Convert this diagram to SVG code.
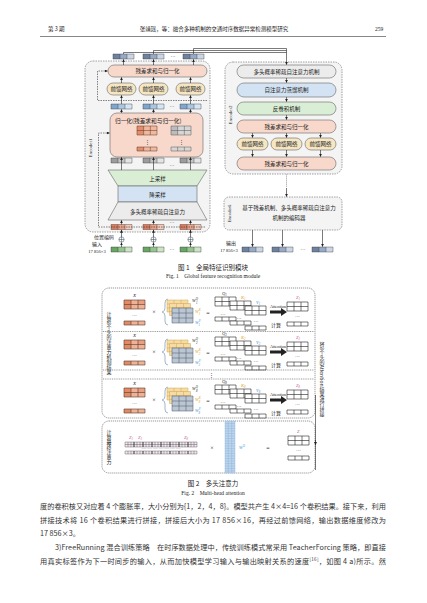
<svg xmlns="http://www.w3.org/2000/svg" width="427" height="603" viewBox="0 0 427 603">
<style>
.cn{font-family:"Noto Sans CJK SC",sans-serif;fill:#222}
.en{font-family:"Liberation Serif","Noto Sans CJK SC",serif;fill:#222}
.bt{font-family:"Noto Sans CJK SC",sans-serif;fill:#333}
.bx{stroke:#666;stroke-width:0.6}
.enc{fill:#f4f4f4;stroke:#666;stroke-width:0.6;stroke-dasharray:1.5 1}
.dbox{fill:none;stroke:#555;stroke-width:0.6;stroke-dasharray:1.2 0.8}
.ar{stroke:#222;stroke-width:0.6;fill:none;marker-end:url(#ah)}
.dar{stroke:#333;stroke-width:0.6;fill:none;stroke-dasharray:1.5 1;marker-end:url(#ah)}
.ln{stroke:#222;stroke-width:0.6;fill:none}
.sep{stroke:#555;stroke-width:0.6;stroke-dasharray:1 0.8;fill:none}
.pink{fill:#f8d8ca}
.ffn{fill:#f6e6c2}
.gray{fill:#ececec}
.blue{fill:#d3e3f3}
.green{fill:#d9eed5}
.g{stroke:#333;stroke-width:0.4;fill:none}
.vt{writing-mode:vertical-rl}
.pk{fill:#c2619a}
.yl{fill:#d9a21b}
.bl{fill:#3a8fcf}
</style>
<defs>
<marker id="ah" viewBox="0 0 4 4" refX="4" refY="2" markerWidth="3" markerHeight="3" markerUnits="userSpaceOnUse" orient="auto"><path d="M0,0L4,2L0,4z" fill="#222"/></marker>
<g id="tTop"><rect width="7" height="5" fill="#6e82a0"/><rect x="7" width="7" height="5" fill="#97aac5"/><rect x="14" width="7" height="5" fill="#cbd6e5"/><path class="g" d="M0,0h21v5h-21zM7,0v5M14,0v5"/></g>
<g id="tBlue"><rect width="7" height="5" fill="#7fa6cc"/><rect x="7" width="7" height="5" fill="#a9c6e3"/><rect x="14" width="7" height="5" fill="#d6e5f4"/><path class="g" d="M0,0h21v5h-21zM7,0v5M14,0v5"/></g>
<g id="tGray"><rect width="7" height="5" fill="#9c9c9c"/><rect x="7" width="7" height="5" fill="#c4c4c4"/><rect x="14" width="7" height="5" fill="#e4e4e4"/><path class="g" d="M0,0h21v5h-21zM7,0v5M14,0v5"/></g>
<g id="tOr"><rect width="7" height="5" fill="#df7b5a"/><rect x="7" width="7" height="5" fill="#eda084"/><rect x="14" width="7" height="5" fill="#f6cab7"/><path class="g" d="M0,0h21v5h-21zM7,0v5M14,0v5"/></g>
<g id="tGr"><rect width="7" height="5" fill="#67a663"/><rect x="7" width="7" height="5" fill="#94c58d"/><rect x="14" width="7" height="5" fill="#cae4c5"/><path class="g" d="M0,0h21v5h-21zM7,0v5M14,0v5"/></g>
<g id="m32o"><rect width="21" height="9" fill="#f0b296"/><rect width="7" height="9" fill="#e28a66"/><rect x="14" width="7" height="4.5" fill="#e8a080"/><path d="M0,0h21v9h-21zM7,0v9M14,0v9M0,4.5h21" stroke="#5a3a2a" stroke-width="0.6" fill="none"/></g>
<g id="r3o"><rect width="21" height="4" fill="#f0b296"/><rect width="7" height="4" fill="#e28a66"/><path d="M0,0h21v4h-21zM7,0v4M14,0v4" stroke="#5a3a2a" stroke-width="0.6" fill="none"/></g>
<g id="m32g"><rect width="20" height="9" fill="#d6d6d6"/><rect width="6.67" height="9" fill="#bcbcbc"/><path d="M0,0h20v9h-20zM6.67,0v9M13.33,0v9M0,4.5h20" stroke="#555" stroke-width="0.5" fill="none"/></g>
<g id="r3g"><rect width="20" height="4" fill="#d6d6d6"/><path d="M0,0h20v4h-20zM6.67,0v4M13.33,0v4" stroke="#555" stroke-width="0.5" fill="none"/></g>
<g id="m32p"><rect width="20" height="9" fill="#f2b89e"/><rect width="6.67" height="9" fill="#e48d6b"/><path d="M0,0h20v9h-20zM6.67,0v9M13.33,0v9M0,4.5h20" stroke="#5a3a2a" stroke-width="0.5" fill="none"/></g>
<g id="r3p"><rect width="20" height="4" fill="#f2b89e"/><rect width="6.67" height="4" fill="#e48d6b"/><path d="M0,0h20v4h-20zM6.67,0v4M13.33,0v4" stroke="#5a3a2a" stroke-width="0.5" fill="none"/></g>
<g id="m32w"><rect width="21" height="9" fill="#fff"/><path d="M0,0h21v9h-21zM7,0v9M14,0v9M0,4.5h21" stroke="#222" stroke-width="0.6" fill="none"/></g>
<g id="r3w"><rect width="21" height="4" fill="#fff"/><path d="M0,0h21v4h-21zM7,0v4M14,0v4" stroke="#222" stroke-width="0.6" fill="none"/></g>
<g id="wy"><rect width="21" height="12" fill="#f5dca6"/><path d="M0,0h21v12h-21zM7,0v12M14,0v12M0,4h21M0,8h21" stroke="#d1a552" stroke-width="0.5" fill="none"/></g>
<g id="wg"><rect width="21" height="15" fill="#bcc6d3"/><path d="M0,0h21v15h-21zM7,0v15M14,0v15M0,5h21M0,10h21" stroke="#4a5566" stroke-width="0.5" fill="none"/></g>
<g id="head">
<use href="#m32o" x="124" y="300"/>
<text class="en" x="134.5" y="317" font-size="5" text-anchor="middle">···</text>
<use href="#r3o" x="124" y="321"/>
<text class="en" x="154" y="314" font-size="6" text-anchor="middle">×</text>
<path d="M168,299q-3,0 -3,4v5q0,3.5 -3,4q3,0.5 3,4v5q0,4 3,4" stroke="#8ea4bd" stroke-width="0.8" fill="none"/>
<use href="#wy" x="167" y="300"/>
<use href="#wy" x="169.5" y="303.5"/>
<use href="#wg" x="172" y="308"/>
<text class="en" x="208" y="315" font-size="6" text-anchor="middle">=</text>
<use href="#m32w" x="215" y="297"/>
<use href="#m32w" x="230" y="301"/>
<use href="#m32w" x="245" y="306"/>
<text class="en" x="223" y="316" font-size="5" text-anchor="middle">···</text>
<text class="en" x="239" y="320" font-size="5" text-anchor="middle">···</text>
<text class="en" x="256" y="323" font-size="5" text-anchor="middle">···</text>
<use href="#r3w" x="215" y="317"/>
<use href="#r3w" x="230" y="321"/>
<use href="#r3w" x="245" y="326"/>
<text class="en" x="278" y="307.5" font-size="4.3" text-anchor="middle">Attention</text>
<path d="M270,310.5h11v-2.5l6,4l-6,4v-2.5h-11z" fill="#222"/>
<text class="cn" x="276" y="326.5" font-size="5" text-anchor="middle">计算</text>
<use href="#m32w" x="287" y="302"/>
<text class="en" x="297.5" y="318" font-size="5" text-anchor="middle">···</text>
<use href="#r3w" x="287" y="322"/>
</g>
</defs>

<rect width="427" height="603" fill="#fff"/>

<g id="header">
<text class="cn" x="48" y="31" font-size="5.5">第 3 期</text>
<text class="cn" x="214" y="31" font-size="5.5" text-anchor="middle">张靖瑶，等：融合多种机制的交通时序数据异常检测模型研究</text>
<text class="en" x="379" y="31" font-size="5.5" text-anchor="middle">259</text>
<path d="M40,36.5H386" stroke="#555" stroke-width="0.7"/>
</g>

<g id="encoder1">
<rect class="enc" x="85" y="61" width="125" height="171" rx="8"/>
<text class="en" font-size="5" text-anchor="middle" transform="translate(91.5,148) rotate(-90)">Encoder1</text>
<rect class="bx pink" x="108" y="65" width="99" height="12" rx="6"/>
<text class="cn" x="157.5" y="73" font-size="5.5" text-anchor="middle">残差求和与归一化</text>
<rect class="bx ffn" x="107" y="83" width="29" height="12" rx="6"/>
<rect class="bx ffn" x="139" y="83" width="29" height="12" rx="6"/>
<rect class="bx ffn" x="176" y="83" width="29" height="12" rx="6"/>
<text class="cn" x="121.5" y="91" font-size="5.5" text-anchor="middle">前馈网络</text>
<text class="cn" x="153.5" y="91" font-size="5.5" text-anchor="middle">前馈网络</text>
<text class="cn" x="190.5" y="91" font-size="5.5" text-anchor="middle">前馈网络</text>
<rect class="bx pink" x="110" y="113" width="93" height="44" rx="7"/>
<text class="cn" x="115" y="122.5" font-size="5.7">归一化(残差求和与归一化)</text>
<use href="#m32p" x="137" y="126"/>
<use href="#m32g" x="171" y="126"/>
<text class="en" x="147" y="144" font-size="5" text-anchor="middle">⋮</text>
<text class="en" x="181" y="144" font-size="5" text-anchor="middle">⋮</text>
<use href="#r3p" x="137" y="147"/>
<use href="#r3g" x="171" y="147"/>
<polygon class="bx green" points="108,170 207,170 197,186 118,186"/>
<rect class="bx blue" x="118" y="186" width="79" height="16"/>
<polygon class="bx gray" points="118,202 197,202 207,220 108,220"/>
<text class="cn" x="157.5" y="180.5" font-size="5.5" text-anchor="middle">上采样</text>
<text class="cn" x="157.5" y="196.5" font-size="5.5" text-anchor="middle">降采样</text>
<text class="cn" x="157.5" y="213.5" font-size="5.5" text-anchor="middle">多头概率稀疏自注意力</text>
</g>

<g id="tokens1">
<use href="#tTop" x="113" y="54"/><use href="#tTop" x="143" y="54"/><use href="#tTop" x="183" y="54"/>
<text class="en" x="173" y="58" font-size="5" text-anchor="middle">···</text>
<use href="#tBlue" x="111" y="104"/><use href="#tBlue" x="143" y="104"/><use href="#tBlue" x="180" y="104"/>
<text class="en" x="172" y="108" font-size="5" text-anchor="middle">···</text>
<use href="#tGray" x="111" y="158"/><use href="#tGray" x="143" y="158"/><use href="#tGray" x="180" y="158"/>
<text class="en" x="172" y="167" font-size="5" text-anchor="middle">···</text>
<use href="#tOr" x="111" y="224.5"/><use href="#tOr" x="143" y="224.5"/><use href="#tOr" x="180" y="224.5"/>
<text class="en" x="172" y="224" font-size="5" text-anchor="middle">···</text>
<use href="#tGr" x="111" y="247"/><use href="#tGr" x="143" y="247"/><use href="#tGr" x="180" y="247"/>
<text class="en" x="172" y="251" font-size="5" text-anchor="middle">···</text>
<text class="cn" x="104" y="238.5" font-size="5" text-anchor="middle">位置编码</text>
<text class="cn" x="97" y="246" font-size="5" text-anchor="middle">输入</text>
<text class="en" x="97" y="253" font-size="4.6" text-anchor="middle">17 856×3</text>
<g stroke="#345" stroke-width="0.5" fill="#fff">
<circle cx="121.5" cy="239.5" r="2.6"/><circle cx="153.5" cy="239.5" r="2.6"/><circle cx="190.5" cy="239.5" r="2.6"/>
<path d="M118.9,239.5h5.2M121.5,236.9v5.2M150.9,239.5h5.2M153.5,236.9v5.2M187.9,239.5h5.2M190.5,236.9v5.2"/>
</g>
</g>

<g id="encoder2">
<rect class="enc" x="225" y="62" width="117" height="112" rx="8"/>
<text class="en" font-size="5" text-anchor="middle" transform="translate(232,115) rotate(-90)">Encoder2</text>
<rect class="bx gray" x="237" y="65" width="99" height="13" rx="6.5"/>
<text class="cn" x="286.5" y="73.5" font-size="5.5" text-anchor="middle">多头概率稀疏自注意力机制</text>
<rect class="bx blue" x="237" y="83" width="99" height="14" rx="7"/>
<text class="cn" x="286.5" y="92" font-size="5.5" text-anchor="middle">自注意力蒸馏机制</text>
<rect class="bx green" x="237" y="102" width="99" height="13" rx="6.5"/>
<text class="cn" x="286.5" y="110.5" font-size="5.5" text-anchor="middle">反卷积机制</text>
<rect class="bx pink" x="237" y="120" width="99" height="13" rx="6.5"/>
<text class="cn" x="286.5" y="128.5" font-size="5.5" text-anchor="middle">残差求和与归一化</text>
<rect class="bx ffn" x="237" y="138" width="31" height="12" rx="6"/>
<rect class="bx ffn" x="271" y="138" width="31" height="12" rx="6"/>
<rect class="bx ffn" x="305" y="138" width="31" height="12" rx="6"/>
<text class="cn" x="252.5" y="146" font-size="5.5" text-anchor="middle">前馈网络</text>
<text class="cn" x="286.5" y="146" font-size="5.5" text-anchor="middle">前馈网络</text>
<text class="cn" x="320.5" y="146" font-size="5.5" text-anchor="middle">前馈网络</text>
<rect class="bx pink" x="237" y="157" width="99" height="13" rx="6.5"/>
<text class="cn" x="286.5" y="165.5" font-size="5.5" text-anchor="middle">残差求和与归一化</text>
</g>

<g id="encoder6">
<rect class="enc" x="224" y="197" width="118" height="33" rx="5"/>
<text class="en" font-size="4.6" text-anchor="middle" transform="translate(231,213.5) rotate(-90)">Encoder6</text>
<text class="cn" x="289" y="210" font-size="5.5" text-anchor="middle">基于残差机制、多头概率稀疏自注意力</text>
<text class="cn" x="289" y="220" font-size="5.5" text-anchor="middle">机制的编码器</text>
</g>

<g id="outputs">
<use href="#tTop" x="242" y="247"/><use href="#tTop" x="272" y="247"/><use href="#tTop" x="312" y="247"/>
<text class="en" x="303" y="251" font-size="5" text-anchor="middle">···</text>
<text class="cn" x="231" y="245" font-size="5" text-anchor="middle">输出</text>
<text class="en" x="229" y="252" font-size="4.6" text-anchor="middle">17 856×3</text>
</g>

<g id="connectors1">
<path class="ln" d="M193.5,54V48.5H286.5M153.5,54V50.5H286.5M123.5,54V52.5H286.5"/>
<path class="ar" d="M286.5,48.5V64.7"/>
<path class="ar" d="M123.5,65V59.3"/><path class="ar" d="M153.5,65V59.3"/><path class="ar" d="M193.5,65V59.3"/>
<path class="ar" d="M121.5,83V77.3"/><path class="ar" d="M153.5,83V77.3"/><path class="ar" d="M190.5,83V77.3"/>
<path class="ar" d="M121.5,104V95.3"/><path class="ar" d="M153.5,104V95.3"/><path class="ar" d="M190.5,104V95.3"/>
<path class="ar" d="M121.5,113V109.3"/><path class="ar" d="M153.5,113V109.3"/><path class="ar" d="M190.5,113V109.3"/>
<path class="ar" d="M121.5,170V157.3"/><path class="ar" d="M153.5,170V157.3"/><path class="ar" d="M190.5,170V157.3"/>
<path class="ar" d="M121.5,224.5V220.3"/><path class="ar" d="M153.5,224.5V220.3"/><path class="ar" d="M190.5,224.5V220.3"/>
<path class="ar" d="M121.5,236.9V229.8"/><path class="ar" d="M153.5,236.9V229.8"/><path class="ar" d="M190.5,236.9V229.8"/>
<path class="ar" d="M121.5,247V242.4"/><path class="ar" d="M153.5,247V242.4"/><path class="ar" d="M190.5,247V242.4"/>
<path class="dar" d="M207,100.5H97.5V71H107.7"/>
<path class="dar" d="M205,227H98.5V133H109.7"/>
<path class="ar" d="M286.5,78V82.7"/><path class="ar" d="M286.5,97V101.7"/><path class="ar" d="M286.5,115V119.7"/>
<path class="ar" d="M252.5,133V137.7"/><path class="ar" d="M286.5,133V137.7"/><path class="ar" d="M320.5,133V137.7"/>
<path class="ar" d="M252.5,150V156.7"/><path class="ar" d="M286.5,150V156.7"/><path class="ar" d="M320.5,150V156.7"/>
<path d="M286.5,174.5V187" stroke="#222" stroke-width="0.6" stroke-dasharray="0.8 1.2"/>
<path class="ar" d="M286.5,188V196.7"/>
<path class="ar" d="M252.5,230V246.7"/><path class="ar" d="M282.5,230V246.7"/><path class="ar" d="M322.5,230V246.7"/>
</g>

<g id="caption1">
<text class="cn" x="213" y="270" font-size="6.5" text-anchor="middle">图 1　全局特征识别模块</text>
<text class="en" x="213" y="278" font-size="5.5" text-anchor="middle">Fig. 1　Global feature recognition module</text>
</g>

<g id="fig2-heads">
<rect class="dbox" x="102" y="288" width="213" height="130" rx="7"/>
<text class="cn vt" x="109" y="312" font-size="5">计算8个头的注意力机制结果</text>
<use href="#head"/>
<text class="en" x="134.5" y="297" font-size="5" font-style="italic" text-anchor="middle">X</text>
<text class="en" x="192" y="302" font-size="4.5" font-style="italic" fill="#7f8fa6">W<tspan font-size="3" dy="-2">Q</tspan><tspan font-size="3" dx="-2" dy="3.5">1</tspan></text>
<text class="en yl" x="195" y="313" font-size="4.5" font-style="italic">W<tspan font-size="3" dy="-2">K</tspan><tspan font-size="3" dx="-2" dy="3.5">1</tspan></text>
<text class="en bl" x="195" y="324" font-size="4.5" font-style="italic">W<tspan font-size="3" dy="-2">V</tspan><tspan font-size="3" dx="-2" dy="3.5">1</tspan></text>
<text class="en" x="222" y="295" font-size="4.5" font-style="italic" fill="#555">Q<tspan font-size="3" dy="1">1</tspan></text>
<text class="en yl" x="241" y="299" font-size="4.5" font-style="italic">K<tspan font-size="3" dy="1">1</tspan></text>
<text class="en bl" x="256" y="304" font-size="4.5" font-style="italic">V<tspan font-size="3" dy="1">1</tspan></text>
<text class="en pk" x="296" y="299" font-size="4.5" font-style="italic">Z<tspan font-size="3" dy="1">1</tspan></text>
<path class="sep" d="M103,331.5H314"/>
<use href="#head" y="40"/>
<text class="en" x="134.5" y="337" font-size="5" font-style="italic" text-anchor="middle">X</text>
<text class="en" x="192" y="342" font-size="4.5" font-style="italic" fill="#7f8fa6">W<tspan font-size="3" dy="-2">Q</tspan><tspan font-size="3" dx="-2" dy="3.5">2</tspan></text>
<text class="en yl" x="195" y="353" font-size="4.5" font-style="italic">W<tspan font-size="3" dy="-2">K</tspan><tspan font-size="3" dx="-2" dy="3.5">2</tspan></text>
<text class="en bl" x="195" y="364" font-size="4.5" font-style="italic">W<tspan font-size="3" dy="-2">V</tspan><tspan font-size="3" dx="-2" dy="3.5">2</tspan></text>
<text class="en" x="222" y="335" font-size="4.5" font-style="italic" fill="#555">Q<tspan font-size="3" dy="1">2</tspan></text>
<text class="en yl" x="241" y="339" font-size="4.5" font-style="italic">K<tspan font-size="3" dy="1">2</tspan></text>
<text class="en bl" x="256" y="344" font-size="4.5" font-style="italic">V<tspan font-size="3" dy="1">2</tspan></text>
<text class="en pk" x="296" y="339" font-size="4.5" font-style="italic">Z<tspan font-size="3" dy="1">2</tspan></text>
<path class="sep" d="M103,370H314M103,379H314"/>
<text class="en" x="211" y="377" font-size="5" text-anchor="middle">⋮</text>
<use href="#head" y="88"/>
<text class="en" x="134.5" y="385" font-size="5" font-style="italic" text-anchor="middle">X</text>
<text class="en" x="192" y="390" font-size="4.5" font-style="italic" fill="#7f8fa6">W<tspan font-size="3" dy="-2">Q</tspan><tspan font-size="3" dx="-2" dy="3.5">8</tspan></text>
<text class="en yl" x="195" y="401" font-size="4.5" font-style="italic">W<tspan font-size="3" dy="-2">K</tspan><tspan font-size="3" dx="-2" dy="3.5">8</tspan></text>
<text class="en bl" x="195" y="412" font-size="4.5" font-style="italic">W<tspan font-size="3" dy="-2">V</tspan><tspan font-size="3" dx="-2" dy="3.5">8</tspan></text>
<text class="en" x="222" y="383" font-size="4.5" font-style="italic" fill="#555">Q<tspan font-size="3" dy="1">8</tspan></text>
<text class="en yl" x="241" y="387" font-size="4.5" font-style="italic">K<tspan font-size="3" dy="1">8</tspan></text>
<text class="en bl" x="256" y="392" font-size="4.5" font-style="italic">V<tspan font-size="3" dy="1">8</tspan></text>
<text class="en pk" x="296" y="387" font-size="4.5" font-style="italic">Z<tspan font-size="3" dy="1">8</tspan></text>
</g>

<g id="fig2-final">
<rect class="dbox" x="102" y="421" width="213" height="52" rx="7"/>
<text class="cn vt" x="109" y="430" font-size="5">计算最终注意力</text>
<text class="en pk" x="129" y="439" font-size="4.5" font-style="italic">Z<tspan font-size="3" dy="1">1</tspan></text>
<text class="en pk" x="138" y="439" font-size="4.5" font-style="italic">Z<tspan font-size="3" dy="1">2</tspan></text>
<text class="en pk" x="184" y="439" font-size="4.5" font-style="italic">Z<tspan font-size="3" dy="1">8</tspan></text>
<g>
<rect x="125" y="442" width="72" height="5" fill="#f1e6f0"/>
<rect x="125" y="451" width="72" height="3" fill="#f1e6f0"/>
<path d="M125,442h72v5h-72zM125,444.5h72M125,451h72v3h-72zM128,442v5M131,442v5M134,442v5M137,442v5M140,442v5M143,442v5M146,442v5M149,442v5M152,442v5M155,442v5M158,442v5M161,442v5M164,442v5M167,442v5M170,442v5M173,442v5M176,442v5M179,442v5M182,442v5M185,442v5M188,442v5M191,442v5M194,442v5M128,451v3M131,451v3M134,451v3M137,451v3M140,451v3M143,451v3M146,451v3M149,451v3M152,451v3M155,451v3M158,451v3M161,451v3M164,451v3M167,451v3M170,451v3M173,451v3M176,451v3M179,451v3M182,451v3M185,451v3M188,451v3M191,451v3M194,451v3" stroke="#333" stroke-width="0.35" fill="none"/>
<path d="M134,442v5M143,442v5M152,442v5M161,442v5M170,442v5M179,442v5M188,442v5M134,451v3M143,451v3M152,451v3M161,451v3M170,451v3M179,451v3M188,451v3" stroke="#111" stroke-width="0.6"/>
<text class="en" x="161" y="450" font-size="3" text-anchor="middle" fill="#666">····· ····· ····· ····· ····· ····· ·····</text>
</g>
<text class="en" x="212" y="450" font-size="6" text-anchor="middle">×</text>
<rect x="225" y="421" width="10" height="52" fill="#bcd5ee"/>
<path d="M225,421h10v52h-10zM228.3,421v52M231.7,421v52" stroke="#7fa8d0" stroke-width="0.35" fill="none"/>
<path d="M225,423.5h10M225,426h10M225,428.5h10M225,431h10M225,433.5h10M225,436h10M225,438.5h10M225,441h10M225,443.5h10M225,446h10M225,448.5h10M225,451h10M225,453.5h10M225,456h10M225,458.5h10M225,461h10M225,463.5h10M225,466h10M225,468.5h10M225,471h10" stroke="#7fa8d0" stroke-width="0.3"/>
<text class="en bl" x="239" y="449" font-size="4.5" font-style="italic">W<tspan font-size="3" dy="-2">O</tspan></text>
<text class="en" x="268" y="450" font-size="6" text-anchor="middle">=</text>
<text class="en pk" x="297" y="433" font-size="4.5" font-style="italic">Z</text>
<use href="#m32w" x="288" y="436"/>
<text class="en" x="298.5" y="452" font-size="5" text-anchor="middle">···</text>
<use href="#r3w" x="288" y="456"/>
</g>

<g id="fig2-concat">
<path class="ln" d="M315.5,395V470"/>
<path class="ar" d="M315.5,440V445"/>
<text class="cn vt" x="322" y="342" font-size="5">将8个头的Attention结果进行拼接</text>
</g>

<g id="caption2">
<text class="cn" x="213" y="486" font-size="6.5" text-anchor="middle">图 2　多头注意力</text>
<text class="en" x="213" y="495" font-size="5.5" text-anchor="middle">Fig. 2　Multi-head attention</text>
</g>

<g id="body">
<text class="bt" x="40" y="509" font-size="7.2" textLength="346" lengthAdjust="spacing">度的卷积核又对应着 4 个膨胀率，大小分别为{1，2，4，8}。模型共产生 4×4=16 个卷积结果。接下来，利用</text>
<text class="bt" x="40" y="523" font-size="7.2" textLength="346" lengthAdjust="spacing">拼接技术将 16 个卷积结果进行拼接，拼接后大小为 17 856×16，再经过前馈网络，输出数据维度修改为</text>
<text class="bt" x="40" y="536" font-size="7.2">17 856×3。</text>
<text class="bt" x="55" y="550" font-size="7.2" textLength="331" lengthAdjust="spacing">3)FreeRunning 混合训练策略　在时序数据处理中，传统训练模式常采用 TeacherForcing 策略，即直接</text>
<text class="bt" x="40" y="564" font-size="7.2" textLength="346" lengthAdjust="spacing">用真实标签作为下一时间步的输入，从而加快模型学习输入与输出映射关系的速度<tspan font-size="4.5" dy="-3">[16]</tspan><tspan dy="3">，如图 4 a)所示。然</tspan></text>
</g>
</svg>
